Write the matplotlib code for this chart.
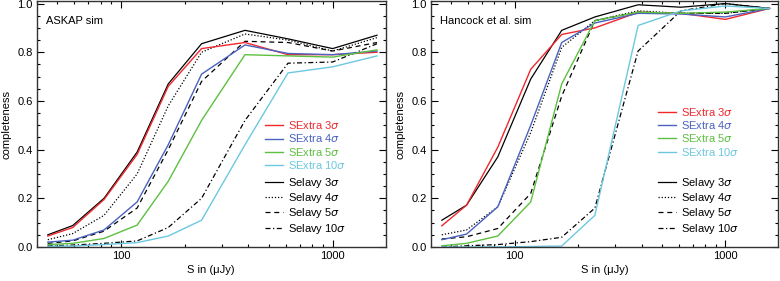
import matplotlib
matplotlib.use("Agg")
import matplotlib.pyplot as plt
from matplotlib.ticker import MultipleLocator, FixedLocator, LogLocator, NullFormatter, FuncFormatter, FormatStrFormatter

plt.rcParams['font.family'] = ['Liberation Sans', 'DejaVu Sans']
plt.rcParams['font.size'] = 8

# flux bins (uJy)
flux = [45, 59, 83, 119, 167, 240, 385, 615, 1000, 1620]

# ASKAP sim
askap_sx3 = [0.045, 0.08, 0.195, 0.38, 0.66, 0.815, 0.84, 0.79, 0.79, 0.80]
askap_sx4 = [0.02, 0.028, 0.07, 0.185, 0.42, 0.71, 0.83, 0.795, 0.79, 0.805]
askap_sx5 = [0.01, 0.015, 0.035, 0.09, 0.27, 0.52, 0.79, 0.785, 0.78, 0.81]
askap_sx10 = [0.003, 0.004, 0.01, 0.018, 0.045, 0.11, 0.42, 0.715, 0.74, 0.785]
askap_sv3 = [0.05, 0.088, 0.20, 0.39, 0.67, 0.835, 0.89, 0.855, 0.815, 0.87]
askap_sv4 = [0.03, 0.055, 0.13, 0.30, 0.58, 0.80, 0.875, 0.85, 0.805, 0.86]
askap_sv5 = [0.015, 0.025, 0.065, 0.16, 0.40, 0.68, 0.845, 0.84, 0.805, 0.84]
askap_sv10 = [0.005, 0.008, 0.015, 0.025, 0.08, 0.20, 0.52, 0.755, 0.76, 0.835]

# Hancock et al. sim
hanc_sx3 = [0.087, 0.172, 0.41, 0.73, 0.873, 0.90, 0.964, 0.96, 0.935, 0.98]
hanc_sx4 = [0.03, 0.053, 0.165, 0.50, 0.84, 0.92, 0.96, 0.957, 0.945, 0.98]
hanc_sx5 = [0.005, 0.015, 0.045, 0.185, 0.67, 0.93, 0.965, 0.96, 0.965, 0.98]
hanc_sx10 = [0.0, 0.0, 0.0, 0.002, 0.004, 0.13, 0.91, 0.97, 0.99, 0.98]
hanc_sv3 = [0.11, 0.172, 0.37, 0.69, 0.89, 0.945, 0.995, 0.985, 1.0, 0.98]
hanc_sv4 = [0.05, 0.07, 0.165, 0.47, 0.82, 0.93, 0.97, 0.96, 0.96, 0.98]
hanc_sv5 = [0.033, 0.042, 0.076, 0.22, 0.62, 0.93, 0.965, 0.96, 0.96, 0.98]
hanc_sv10 = [0.0, 0.005, 0.01, 0.022, 0.04, 0.16, 0.805, 0.97, 1.0, 0.98]

sx_labels = [r'SExtra 3$\sigma$', r'SExtra 4$\sigma$', r'SExtra 5$\sigma$', r'SExtra 10$\sigma$']
sv_labels = [r'Selavy 3$\sigma$', r'Selavy 4$\sigma$', r'Selavy 5$\sigma$', r'Selavy 10$\sigma$']
sx_colors = ['#f0282d', '#4a62c0', '#5cc040', '#6cc8e0']
sv_styles = ['-', (0, (1, 1.5)), (0, (4, 3)), (0, (4, 2, 1, 2))]

fig = plt.figure(figsize=(7.8, 2.81), dpi=100)
ax1 = fig.add_axes([0.0474, 0.121, 0.447, 0.875])
ax2 = fig.add_axes([0.5526, 0.121, 0.445, 0.875])


def panel(ax, sx, sv, title, leg1_y):
    sv_lines = []
    for ys, ls in zip(sv, sv_styles):
        l, = ax.plot(flux, ys, color='black', lw=0.9, linestyle=ls)
        sv_lines.append(l)
    sx_lines = []
    for ys, c in zip(sx, sx_colors):
        l, = ax.plot(flux, ys, color=c, lw=1.0)
        sx_lines.append(l)
    ax.set_xscale('log')
    ax.set_xlim(40, 1780)
    ax.set_ylim(0, 1.01)
    ax.xaxis.set_major_locator(FixedLocator([100, 1000]))
    ax.xaxis.set_major_formatter(FuncFormatter(lambda v, p: '%d' % v))
    ax.xaxis.set_minor_locator(LogLocator(base=10, subs=range(2, 10)))
    ax.xaxis.set_minor_formatter(NullFormatter())
    ax.yaxis.set_major_locator(MultipleLocator(0.2))
    ax.yaxis.set_minor_locator(MultipleLocator(0.05))
    ax.yaxis.set_major_formatter(FormatStrFormatter('%.1f'))
    ax.tick_params(which='both', direction='in', top=True, right=True, width=0.8)
    ax.tick_params(which='major', length=5, pad=3)
    ax.tick_params(which='minor', length=2.5)
    for s in ax.spines.values():
        s.set_linewidth(1.0)
        s.set_color('#333333')
    ax.set_xlabel(u'S in (\u03bcJy)', labelpad=3)
    ax.set_ylabel('completeness', labelpad=4)
    ax.text(0.027, 0.92, title, transform=ax.transAxes, fontsize=8, va='center')

    leg1 = ax.legend(sx_lines, sx_labels, loc='upper left', bbox_to_anchor=(0.655, leg1_y),
                     frameon=False, handlelength=1.6, handletextpad=0.4, labelspacing=0.12,
                     borderpad=0, borderaxespad=0, labelcolor=sx_colors, fontsize=8)
    ax.add_artist(leg1)
    ax.legend(sv_lines, sv_labels, loc='upper left', bbox_to_anchor=(0.655, 0.29),
              frameon=False, handlelength=1.6, handletextpad=0.4, labelspacing=0.12,
              borderpad=0, borderaxespad=0, fontsize=8)


panel(ax1, [askap_sx3, askap_sx4, askap_sx5, askap_sx10],
      [askap_sv3, askap_sv4, askap_sv5, askap_sv10], 'ASKAP sim', 0.52)
panel(ax2, [hanc_sx3, hanc_sx4, hanc_sx5, hanc_sx10],
      [hanc_sv3, hanc_sv4, hanc_sv5, hanc_sv10], 'Hancock et al. sim', 0.575)

fig.savefig('out.png', dpi=100)
